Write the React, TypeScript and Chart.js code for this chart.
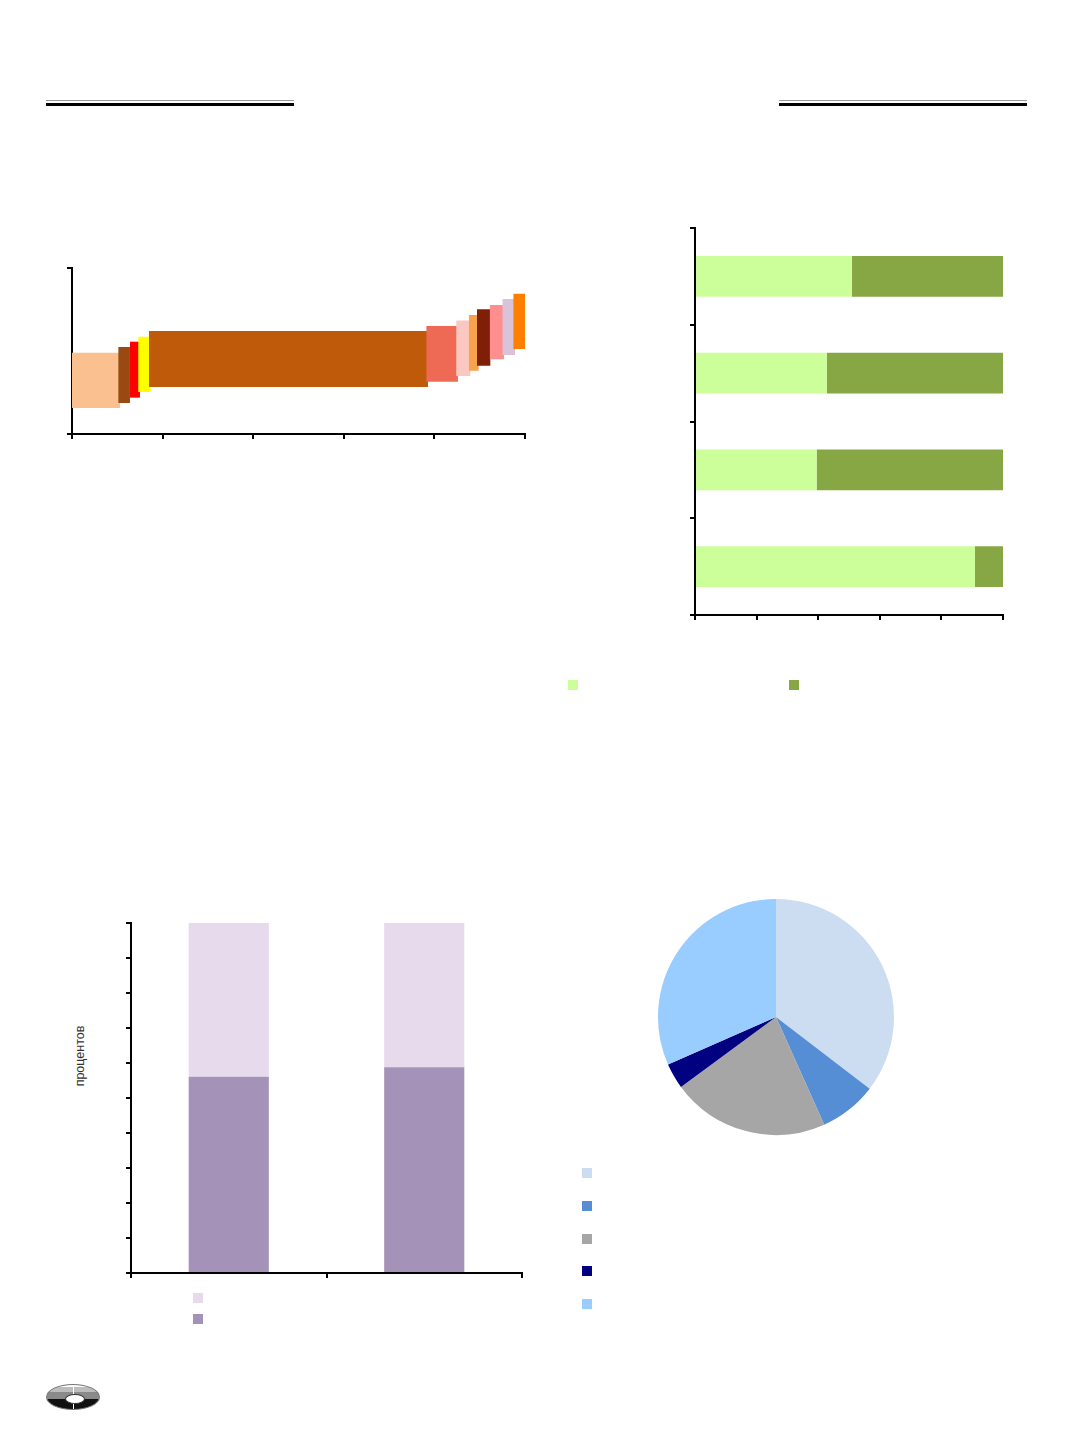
import { useEffect, useRef } from 'react'
import { Chart, registerables } from 'chart.js'

Chart.register(...registerables)

// --- chart 1: cost curve (segment start/end on x, low/high on y)
const curveStart = [0, 0.51, 0.64, 0.73, 0.85, 3.91, 4.24, 4.38, 4.47, 4.61, 4.75, 4.87]
const curveEnd = [0.53, 0.64, 0.75, 0.87, 3.93, 4.26, 4.4, 4.49, 4.62, 4.77, 4.89, 5.0]
const curveLow = [15.7, 18.7, 21.9, 25.3, 28.3, 31.5, 34.9, 38.1, 41.1, 45.0, 47.6, 51.2]
const curveHigh = [49.0, 52.4, 55.6, 58.6, 62.0, 65.1, 68.3, 71.7, 75.1, 77.7, 81.3, 84.5]
const curveColors = [
  '#FAC090', '#994A12', '#FF0000', '#FFFF00', '#C05A0B', '#EE6A55',
  '#FAC8C0', '#F9A24C', '#7F1F08', '#FF8F8F', '#D9C3D9', '#FF8000',
]

// --- chart 2: horizontal 100% bars
const shareCats = ['1', '2', '3', '4']
const shareLight = [50.9, 42.8, 39.5, 90.9]
const shareDark = [49.1, 57.2, 60.5, 9.1]

// --- chart 3: vertical 100% bars
const pctCats = ['A', 'B']
const pctDark = [56.1, 58.8]
const pctLight = [43.9, 41.2]

// --- chart 4: pie
const pieValues = [35.4, 7.9, 21.6, 3.5, 31.6]
const pieColors = ['#CCDDF2', '#558ED5', '#A6A6A6', '#000080', '#99CCFF']

const axis = {
  border: { color: '#000', width: 2 },
  grid: { drawOnChartArea: false, drawTicks: true, tickLength: 5, color: '#000', lineWidth: 2 },
  ticks: { display: false },
}

const noPlugins = { legend: { display: false }, tooltip: { enabled: false } }

function ChartBox({ make, style }: { make: () => any; style: React.CSSProperties }) {
  const ref = useRef<HTMLCanvasElement>(null)
  useEffect(() => {
    const chart = new Chart(ref.current!, make())
    return () => chart.destroy()
  }, [])
  return (
    <div style={{ position: 'absolute', ...style }}>
      <canvas ref={ref} />
    </div>
  )
}

const curveConfig = () => ({
  type: 'line',
  data: {
    datasets: curveStart.map((s, i) => ({
      data: [
        { x: s, y: curveHigh[i] },
        { x: curveEnd[i], y: curveHigh[i] },
      ],
      fill: { value: curveLow[i] },
      backgroundColor: curveColors[i],
      borderWidth: 0,
      pointRadius: 0,
      order: -i,
    })),
  },
  options: {
    animation: false,
    responsive: true,
    maintainAspectRatio: false,
    layout: { padding: { left: 5, top: 10, right: 10, bottom: 10 } },
    scales: {
      x: { ...axis, type: 'linear', min: 0, max: 5, ticks: { display: false, stepSize: 1 } },
      y: { ...axis, type: 'linear', min: 0, max: 100, ticks: { display: false, stepSize: 100 } },
    },
    plugins: noPlugins,
  },
})

const shareConfig = () => ({
  type: 'bar',
  data: {
    labels: shareCats,
    datasets: [
      { data: shareLight, backgroundColor: '#CCFF99' },
      { data: shareDark, backgroundColor: '#87A744' },
    ],
  },
  options: {
    animation: false,
    responsive: true,
    maintainAspectRatio: false,
    indexAxis: 'y',
    datasets: { bar: { barPercentage: 0.42, categoryPercentage: 1 } },
    layout: { padding: { left: 5, top: 10, right: 10, bottom: 10 } },
    scales: {
      x: { ...axis, stacked: true, min: 0, max: 100, ticks: { display: false, stepSize: 20 } },
      y: { ...axis, stacked: true, grid: { ...axis.grid, offset: true } },
    },
    plugins: noPlugins,
  },
})

const pctConfig = () => ({
  type: 'bar',
  data: {
    labels: pctCats,
    datasets: [
      { data: pctDark, backgroundColor: '#A592B8' },
      { data: pctLight, backgroundColor: '#E7DAEC' },
    ],
  },
  options: {
    animation: false,
    responsive: true,
    maintainAspectRatio: false,
    datasets: { bar: { barPercentage: 0.41, categoryPercentage: 1 } },
    layout: { padding: { left: 5, top: 10, right: 10, bottom: 10 } },
    scales: {
      x: { ...axis, stacked: true, grid: { ...axis.grid, offset: true } },
      y: { ...axis, stacked: true, min: 0, max: 100, ticks: { display: false, stepSize: 10 } },
    },
    plugins: noPlugins,
  },
})

const pieConfig = () => ({
  type: 'pie',
  data: {
    labels: ['1', '2', '3', '4', '5'],
    datasets: [{ data: pieValues, backgroundColor: pieColors, borderWidth: 0 }],
  },
  options: {
    animation: false,
    responsive: true,
    maintainAspectRatio: false,
    layout: { padding: 7 },
    plugins: noPlugins,
  },
})

const rule = (left: number): React.CSSProperties => ({ position: 'absolute', left, width: 248 })

const swatch = (left: number, top: number, color: string) => (
  <div key={`${left}-${top}`} style={{ position: 'absolute', left, top, width: 10, height: 10, background: color }} />
)

export default function App() {
  return (
    <div style={{ position: 'absolute', left: 0, top: 0, width: 1072, height: 1433, background: '#fff', overflow: 'hidden' }}>
      {/* page rules */}
      <div style={{ ...rule(46), top: 100, height: 1, background: '#999' }} />
      <div style={{ ...rule(46), top: 103, height: 3, background: '#000' }} />
      <div style={{ ...rule(779), top: 100, height: 1, background: '#999' }} />
      <div style={{ ...rule(779), top: 103, height: 3, background: '#000' }} />

      <ChartBox make={curveConfig} style={{ left: 62, top: 258, width: 473, height: 191 }} />

      <ChartBox make={shareConfig} style={{ left: 685, top: 218, width: 328, height: 412 }} />
      {swatch(568, 680, '#CCFF99')}
      {swatch(789, 680, '#87A744')}

      <ChartBox make={pctConfig} style={{ left: 121, top: 913, width: 411, height: 375 }} />
      <div
        style={{
          position: 'absolute', left: 80, top: 1056, transform: 'translate(-50%, -50%) rotate(-90deg)',
          fontFamily: '"Liberation Sans", Arial, sans-serif', fontSize: 12.5, color: '#333', whiteSpace: 'nowrap',
        }}
      >
        процентов
      </div>
      {swatch(193, 1293, '#E7DAEC')}
      {swatch(193, 1314, '#A592B8')}

      <ChartBox make={pieConfig} style={{ left: 651, top: 892, width: 250, height: 250 }} />
      {pieColors.map((c, i) => swatch(582, 1168 + i * 32.75, c))}

      {/* logo */}
      <div style={{ position: 'absolute', left: 46, top: 1384, width: 54, height: 26, borderRadius: '50%', overflow: 'hidden',
        background: 'linear-gradient(#fff 0 8%, #bdbdbd 8% 30%, #8a8a8a 30% 58%, #111 58% 100%)', border: '1px solid #777', boxSizing: 'border-box' }}>
        <div style={{ position: 'absolute', left: 26, top: 0, width: 1, height: 26, background: '#fff' }} />
        <div style={{ position: 'absolute', left: 18, top: 9, width: 18, height: 8, borderRadius: '50%', background: '#fff', border: '1px solid #333' }} />
      </div>
    </div>
  )
}
